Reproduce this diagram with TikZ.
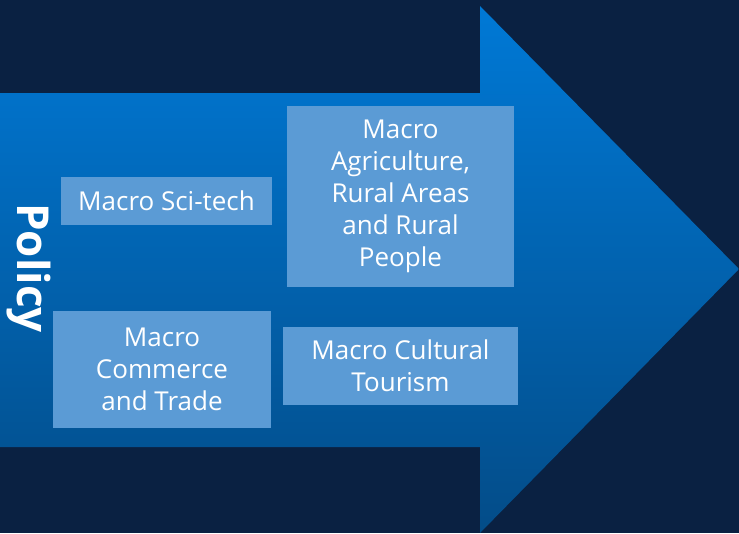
\documentclass[tikz,border=0pt]{standalone}
\usepackage{fontspec}
\setmainfont{Open Sans}
\definecolor{bgnavy}{HTML}{0A2142}
\definecolor{arrowtop}{HTML}{0079D6}
\definecolor{arrowbot}{HTML}{034C88}
\definecolor{boxblue}{HTML}{5B9BD5}
\tikzset{
  policybox/.style={fill=boxblue, text=white, align=center, inner sep=0pt,
    font=\fontsize{26}{32}\selectfont},
}
\begin{document}
\begin{tikzpicture}[x=1pt, y=-1pt]
            \fill [bgnavy] (0,0) rectangle (739,533);
            \useasboundingbox (0,0) rectangle (739,533);
            \shade [top color=arrowtop, bottom color=arrowbot]
                (0,93) -- (480,93) -- (480,6) -- (739,269) -- (480,533) -- (480,447) -- (0,447) -- cycle;
            \node [text=white, rotate=-90, font=\fontsize{44}{48}\selectfont\bfseries] (policy) at (29,268) {Policy};
            \node [policybox, minimum width=211pt, minimum height=48pt] (scitech) at (166.5,201) {Macro Sci-tech};
            \node [policybox, minimum width=227pt, minimum height=181pt] (agri) at (400.5,196.5)
                {Macro\\Agriculture,\\Rural Areas\\and Rural\\People};
            \node [policybox, minimum width=218pt, minimum height=117pt] (commerce) at (162,369.5)
                {Macro\\Commerce\\and Trade};
            \node [policybox, minimum width=235pt, minimum height=78pt] (tourism) at (400.5,366)
                {Macro Cultural\\Tourism};
        \end{tikzpicture}
\end{document}
